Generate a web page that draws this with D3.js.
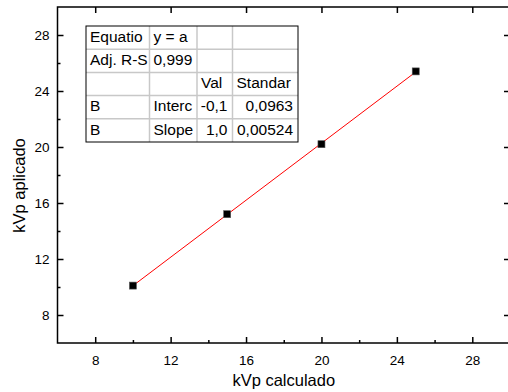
<!DOCTYPE html>
<html>
<head>
<meta charset="utf-8">
<script src="https://cdn.jsdelivr.net/npm/d3@7"></script>
<style>
  html, body { margin: 0; padding: 0; background: #fff; }
  svg { display: block; font-family: "Liberation Sans", Arial, sans-serif; }
</style>
</head>
<body>
<svg id="chart" width="508" height="392"></svg>
<script>
// measured points
const kvpCalculado = [10, 15, 20, 25];
const kvpAplicado = [10.1, 15.2, 20.2, 25.4];

const majorTicks = [8, 12, 16, 20, 24, 28];
const minorTicks = [10, 14, 18, 22, 26];

// fit results table (as shown, truncated cells)
const tableRows = [
  ['Equatio', 'y = a', '', ''],
  ['Adj. R-S', '0,999', '', ''],
  ['', '', 'Val', 'Standar'],
  ['B', 'Interc', '-0,1', '0,0963'],
  ['B', 'Slope', '1,0', '0,00524']
];

const svg = d3.select('#chart');

const x = d3.scaleLinear().domain([6, 30]).range([57.5, 510]);
const y = d3.scaleLinear().domain([6, 30]).range([343, 7]);

const x0 = x.range()[0], x1 = x.range()[1];
const y0 = y.range()[0], y1 = y.range()[1];

// frame
svg.append('rect')
  .attr('x', x0).attr('y', y1)
  .attr('width', x1 - x0).attr('height', y0 - y1)
  .attr('fill', 'none').attr('stroke', '#000').attr('stroke-width', 1.5);

// bottom axis
const bottom = svg.append('g').attr('transform', `translate(0,${y0})`);
bottom.call(d3.axisBottom(x).tickValues(majorTicks).tickSize(-6).tickPadding(12).tickFormat(d3.format('d')));
bottom.append('g').call(d3.axisBottom(x).tickValues(minorTicks).tickSize(-3).tickFormat(''));

// left axis
const left = svg.append('g').attr('transform', `translate(${x0},0)`);
left.call(d3.axisLeft(y).tickValues(majorTicks).tickSize(-6).tickPadding(8).tickFormat(d3.format('d')));
left.append('g').call(d3.axisLeft(y).tickValues(minorTicks).tickSize(-3).tickFormat(''));

// top & right axes: major ticks only
svg.append('g').attr('transform', `translate(0,${y1})`)
  .call(d3.axisTop(x).tickValues(majorTicks).tickSize(-6).tickFormat(''));
svg.append('g').attr('transform', `translate(${x1},0)`)
  .call(d3.axisRight(y).tickValues(majorTicks).tickSize(-6).tickFormat(''));

svg.selectAll('.domain').attr('stroke', 'none');
svg.selectAll('.tick line').attr('stroke', '#000').attr('stroke-width', 1.5);
svg.selectAll('.tick text').attr('font-size', 13.5).attr('fill', '#000')
  .attr('font-family', '"Liberation Sans", Arial, sans-serif');

// axis titles
svg.append('text')
  .attr('x', (x0 + x1) / 2).attr('y', 386)
  .attr('text-anchor', 'middle')
  .attr('font-size', 16.5)
  .text('kVp calculado');

svg.append('text')
  .attr('transform', 'translate(25,185.5) rotate(-90)')
  .attr('text-anchor', 'middle')
  .attr('font-size', 16.5)
  .text('kVp aplicado');

// linear fit
const pts = kvpCalculado.map((v, i) => [v, kvpAplicado[i]]);
const mx = d3.mean(pts, d => d[0]), my = d3.mean(pts, d => d[1]);
const slope = d3.sum(pts, d => (d[0] - mx) * (d[1] - my)) / d3.sum(pts, d => (d[0] - mx) ** 2);
const intercept = my - slope * mx;
const xExt = d3.extent(kvpCalculado);

svg.append('path')
  .datum(xExt.map(v => [v, intercept + slope * v]))
  .attr('d', d3.line().x(d => x(d[0])).y(d => y(d[1])))
  .attr('stroke', '#ff0000').attr('stroke-width', 1).attr('fill', 'none');

svg.selectAll('.pt')
  .data(pts)
  .enter().append('rect')
  .attr('class', 'pt')
  .attr('x', d => x(d[0]) - 3.5)
  .attr('y', d => y(d[1]) - 3.5)
  .attr('width', 7).attr('height', 7)
  .attr('fill', '#000').attr('stroke', '#555').attr('stroke-width', 0.6);

// results table
const colX = [86, 149.5, 197, 232.5, 298];
const rowY = [26, 49.2, 72.4, 95.6, 118.8, 142];
const tbl = svg.append('g');

tbl.append('rect')
  .attr('x', colX[0]).attr('y', rowY[0])
  .attr('width', colX[4] - colX[0]).attr('height', rowY[5] - rowY[0])
  .attr('fill', '#fff');

colX.slice(1, -1).forEach(cx => {
  tbl.append('line').attr('x1', cx).attr('x2', cx).attr('y1', rowY[0]).attr('y2', rowY[5])
    .attr('stroke', '#c8c8c8').attr('stroke-width', 1.5);
});
rowY.slice(1, -1).forEach(ry => {
  tbl.append('line').attr('x1', colX[0]).attr('x2', colX[4]).attr('y1', ry).attr('y2', ry)
    .attr('stroke', '#c8c8c8').attr('stroke-width', 1.5);
});
tbl.append('rect')
  .attr('x', colX[0]).attr('y', rowY[0])
  .attr('width', colX[4] - colX[0]).attr('height', rowY[5] - rowY[0])
  .attr('fill', 'none').attr('stroke', '#000').attr('stroke-width', 1);

tableRows.forEach((row, r) => {
  row.forEach((txt, c) => {
    if (!txt) return;
    const numeric = r >= 3 && c >= 2;
    tbl.append('text')
      .attr('x', numeric ? colX[c + 1] - 5 : colX[c] + 4)
      .attr('y', rowY[r] + 15.8)
      .attr('text-anchor', numeric ? 'end' : 'start')
      .attr('font-size', 15.5)
      .text(txt);
  });
});
</script>
</body>
</html>
